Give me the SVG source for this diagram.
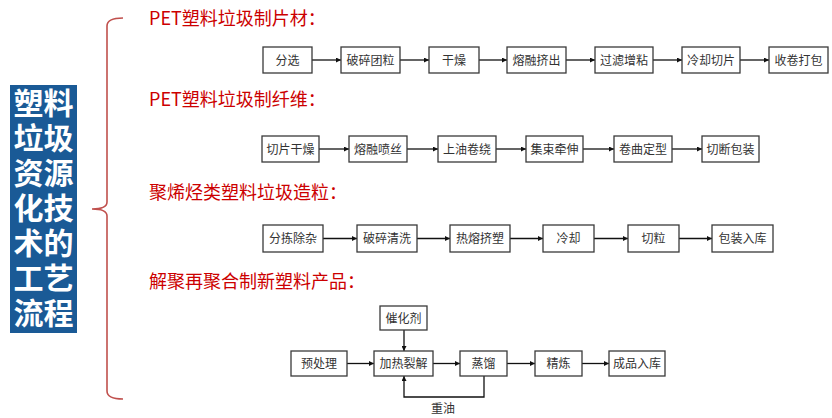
<svg xmlns="http://www.w3.org/2000/svg" width="832" height="418" viewBox="0 0 832 418">
<style>
.box{fill:#fff;stroke:#3a3a3a;stroke-width:1.3}
.bt{font-family:"Liberation Serif","Noto Sans CJK SC",serif;font-size:12px;fill:#333;text-anchor:middle}
.ttl{font-family:"Noto Sans CJK SC","Liberation Sans",sans-serif;font-size:18px;fill:#cc0000}
.side{font-family:"Noto Sans CJK SC",sans-serif;font-size:30px;font-weight:bold;fill:#fff;text-anchor:middle}
.con{fill:none;stroke:#111;stroke-width:1.3;marker-end:url(#ah)}
</style>
<defs>
<marker id="ah" viewBox="0 0 6 6" refX="6" refY="3" markerWidth="5" markerHeight="5" markerUnits="userSpaceOnUse" orient="auto"><path d="M0,0 L6,3 L0,6 z" fill="#111"/></marker>
</defs>
<rect width="832" height="418" fill="#fff"/>
<g id="side-title">
<rect x="10" y="85" width="67" height="248" fill="#1a5a96"/>
<text class="side"><tspan x="43.5" y="114">塑料</tspan><tspan x="43.5" y="149">垃圾</tspan><tspan x="43.5" y="184">资源</tspan><tspan x="43.5" y="219">化技</tspan><tspan x="43.5" y="254">术的</tspan><tspan x="43.5" y="289">工艺</tspan><tspan x="43.5" y="324">流程</tspan></text>
</g>
<g id="brace">
<path d="M123,18 Q107,18 107,26 L107,202 Q107,209 92,209 Q107,209 107,216 L107,391 Q107,399 123,399" fill="none" stroke="#c0504d" stroke-width="1.6"/>
</g>
<g id="titles">
<text class="ttl" x="149" y="25">PET塑料垃圾制片材：</text>
<text class="ttl" x="149" y="106">PET塑料垃圾制纤维：</text>
<text class="ttl" x="149" y="199">聚烯烃类塑料垃圾造粒：</text>
<text class="ttl" x="149" y="288">解聚再聚合制新塑料产品：</text>
</g>
<g id="connectors">
<line class="con" x1="312" y1="60" x2="341" y2="60"/>
<line class="con" x1="400" y1="60" x2="429" y2="60"/>
<line class="con" x1="479" y1="60" x2="507" y2="60"/>
<line class="con" x1="566" y1="60" x2="595" y2="60"/>
<line class="con" x1="653" y1="60" x2="682" y2="60"/>
<line class="con" x1="740" y1="60" x2="769" y2="60"/>
<line class="con" x1="319" y1="149" x2="349" y2="149"/>
<line class="con" x1="407" y1="149" x2="438" y2="149"/>
<line class="con" x1="496" y1="149" x2="526" y2="149"/>
<line class="con" x1="583" y1="149" x2="614" y2="149"/>
<line class="con" x1="672" y1="149" x2="702" y2="149"/>
<line class="con" x1="323" y1="238.5" x2="357" y2="238.5"/>
<line class="con" x1="417" y1="238.5" x2="450" y2="238.5"/>
<line class="con" x1="510" y1="238.5" x2="543" y2="238.5"/>
<line class="con" x1="594" y1="238.5" x2="628" y2="238.5"/>
<line class="con" x1="679" y1="238.5" x2="712" y2="238.5"/>
<line class="con" x1="347" y1="363.5" x2="374" y2="363.5"/>
<line class="con" x1="433" y1="363.5" x2="460" y2="363.5"/>
<line class="con" x1="507" y1="363.5" x2="535" y2="363.5"/>
<line class="con" x1="582" y1="363.5" x2="609" y2="363.5"/>
<line class="con" x1="404" y1="330" x2="404" y2="351"/>
<path class="con" d="M484,376 V397 H404 V376"/>
<text class="bt" x="443" y="413">重油</text>
</g>
<g id="n1-1"><rect class="box" x="263" y="47" width="49" height="26"/><text class="bt" x="287.5" y="64.5">分选</text></g>
<g id="n1-2"><rect class="box" x="341" y="47" width="59" height="26"/><text class="bt" x="370.5" y="64.5">破碎团粒</text></g>
<g id="n1-3"><rect class="box" x="429" y="47" width="50" height="26"/><text class="bt" x="454" y="64.5">干燥</text></g>
<g id="n1-4"><rect class="box" x="507" y="47" width="59" height="26"/><text class="bt" x="536.5" y="64.5">熔融挤出</text></g>
<g id="n1-5"><rect class="box" x="595" y="47" width="58" height="26"/><text class="bt" x="624" y="64.5">过滤增粘</text></g>
<g id="n1-6"><rect class="box" x="682" y="47" width="58" height="26"/><text class="bt" x="711" y="64.5">冷却切片</text></g>
<g id="n1-7"><rect class="box" x="769" y="47" width="59" height="26"/><text class="bt" x="798.5" y="64.5">收卷打包</text></g>
<g id="n2-1"><rect class="box" x="262" y="136" width="57" height="26"/><text class="bt" x="290.5" y="153.5">切片干燥</text></g>
<g id="n2-2"><rect class="box" x="349" y="136" width="58" height="26"/><text class="bt" x="378" y="153.5">熔融喷丝</text></g>
<g id="n2-3"><rect class="box" x="438" y="136" width="58" height="26"/><text class="bt" x="467" y="153.5">上油卷绕</text></g>
<g id="n2-4"><rect class="box" x="526" y="136" width="57" height="26"/><text class="bt" x="554.5" y="153.5">集束牵伸</text></g>
<g id="n2-5"><rect class="box" x="614" y="136" width="58" height="26"/><text class="bt" x="643" y="153.5">卷曲定型</text></g>
<g id="n2-6"><rect class="box" x="702" y="136" width="57" height="26"/><text class="bt" x="730.5" y="153.5">切断包装</text></g>
<g id="n3-1"><rect class="box" x="263" y="225" width="60" height="27"/><text class="bt" x="293" y="243">分拣除杂</text></g>
<g id="n3-2"><rect class="box" x="357" y="225" width="60" height="27"/><text class="bt" x="387" y="243">破碎清洗</text></g>
<g id="n3-3"><rect class="box" x="450" y="225" width="60" height="27"/><text class="bt" x="480" y="243">热熔挤塑</text></g>
<g id="n3-4"><rect class="box" x="543" y="225" width="51" height="27"/><text class="bt" x="568.5" y="243">冷却</text></g>
<g id="n3-5"><rect class="box" x="628" y="225" width="51" height="27"/><text class="bt" x="653.5" y="243">切粒</text></g>
<g id="n3-6"><rect class="box" x="712" y="225" width="61" height="27"/><text class="bt" x="742.5" y="243">包装入库</text></g>
<g id="n4-cat"><rect class="box" x="380" y="306" width="47" height="24"/><text class="bt" x="403.5" y="322.5">催化剂</text></g>
<g id="n4-1"><rect class="box" x="291" y="351" width="56" height="25"/><text class="bt" x="319" y="368">预处理</text></g>
<g id="n4-2"><rect class="box" x="374" y="351" width="59" height="25"/><text class="bt" x="403.5" y="368">加热裂解</text></g>
<g id="n4-3"><rect class="box" x="460" y="351" width="47" height="25"/><text class="bt" x="483.5" y="368">蒸馏</text></g>
<g id="n4-4"><rect class="box" x="535" y="351" width="47" height="25"/><text class="bt" x="558.5" y="368">精炼</text></g>
<g id="n4-5"><rect class="box" x="609" y="351" width="56" height="25"/><text class="bt" x="637" y="368">成品入库</text></g>
</svg>
